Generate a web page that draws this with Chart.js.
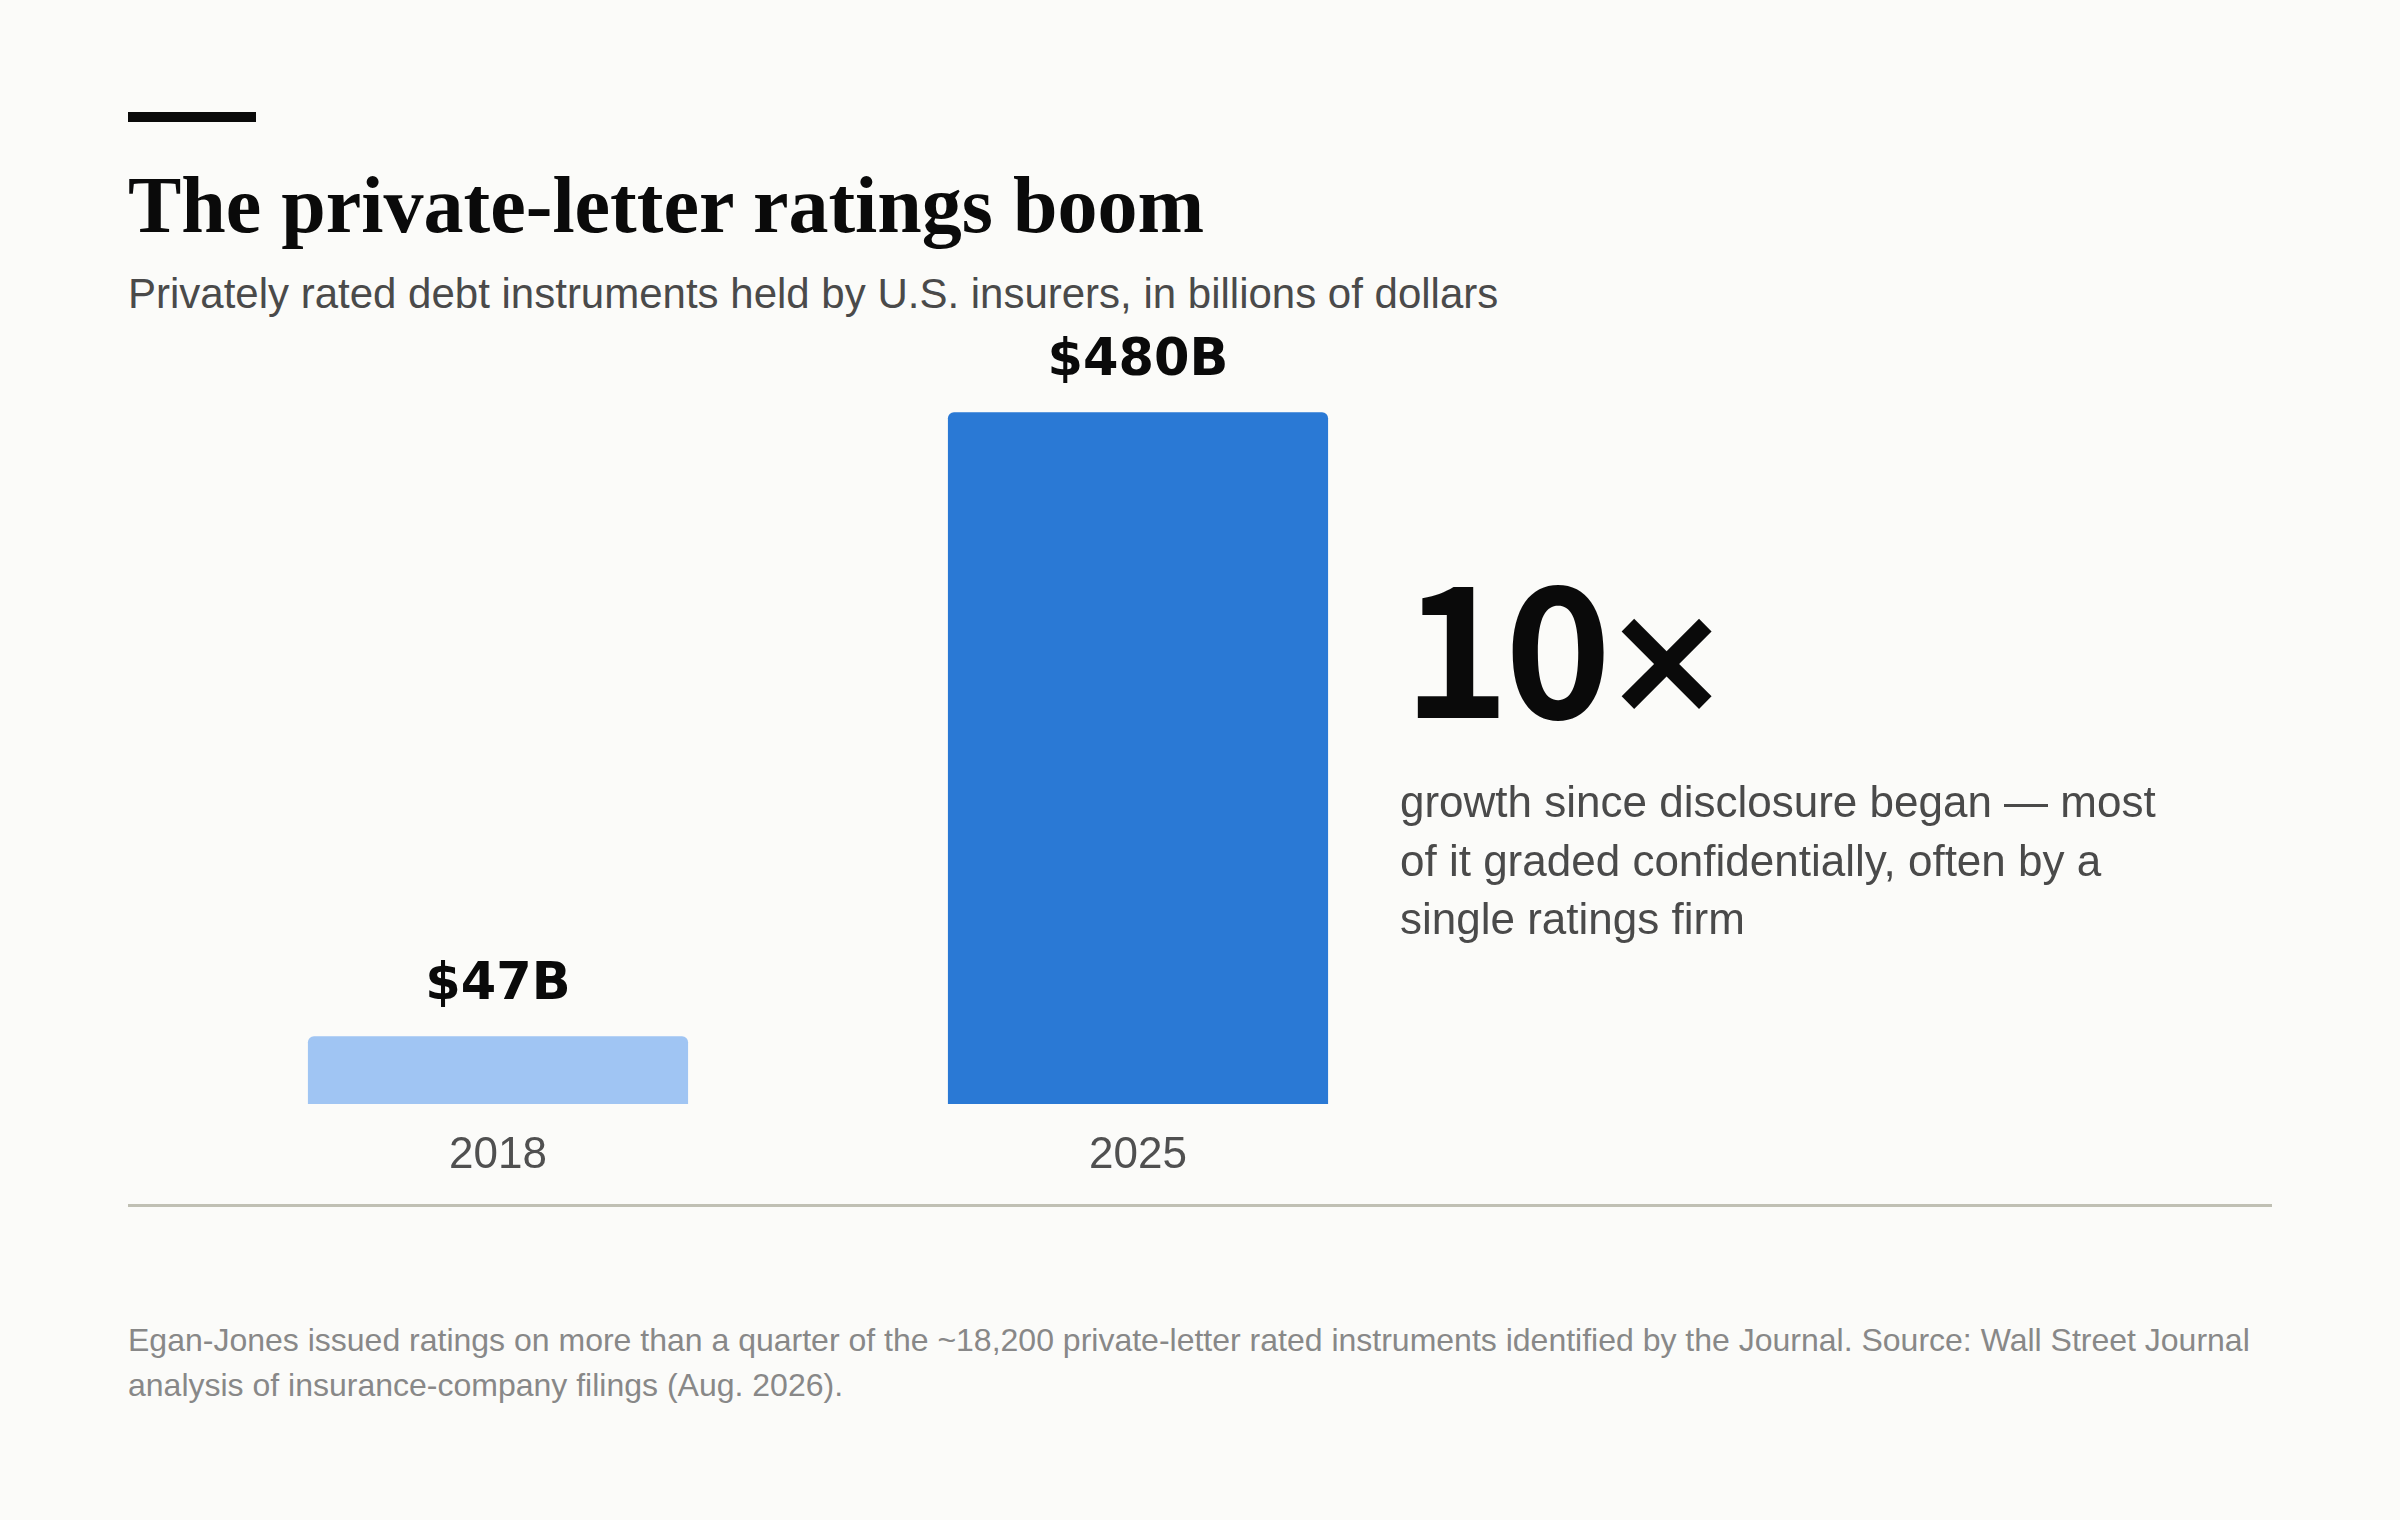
<!DOCTYPE html>
<html>
<head>
<meta charset="utf-8">
<title>The private-letter ratings boom</title>
<script src="https://cdn.jsdelivr.net/npm/chart.js@4.4.1/dist/chart.umd.min.js"></script>
<style>
    html, body { margin: 0; padding: 0; }
    body {
        width: 2400px;
        height: 1520px;
        position: relative;
        overflow: hidden;
        background: #FBFBF9;
        font-family: "Liberation Sans", Arial, sans-serif;
    }
    .accent { position: absolute; left: 128px; top: 112px; width: 128px; height: 10px; background: #0a0a0a; }
    h1 {
        position: absolute; left: 128px; top: 165px; margin: 0;
        font: bold 80px/1 "Liberation Serif", serif; color: #0a0a0a; white-space: nowrap;
    }
    .subtitle { position: absolute; left: 128px; top: 273px; font-size: 42px; line-height: 1; color: #4a4a4a; white-space: nowrap; }
    #chartWrap { position: absolute; left: 178px; top: 297px; width: 1280px; height: 907px; }
    .rule { position: absolute; left: 128px; top: 1204px; width: 2144px; height: 3px; background: #C0C0B4; }
    .big {
        position: absolute; left: 1403px; top: 549px;
        font: bold 181px/1 "Noto Sans CJK SC", sans-serif; color: #0a0a0a;
        letter-spacing: -5px; white-space: nowrap;
    }
    .big .times {
        font-family: "DejaVu Sans", sans-serif; font-size: 153px; letter-spacing: 0;
        position: relative; top: -6px; margin-left: -4px;
    }
    .note { position: absolute; left: 1400px; top: 773px; font-size: 44px; line-height: 58.5px; color: #4a4a4a; white-space: nowrap; }
    .footer { position: absolute; left: 128px; top: 1318px; font-size: 32px; line-height: 45px; color: #888; white-space: nowrap; }
</style>
</head>
<body>
<div class="accent"></div>
<h1>The private-letter ratings boom</h1>
<div class="subtitle">Privately rated debt instruments held by U.S. insurers, in billions of dollars</div>

<div id="chartWrap"><canvas id="ratingsChart" width="1280" height="907"></canvas></div>
<div class="rule"></div>

<div class="big">10<span class="times">×</span></div>
<div class="note">growth since disclosure began — most<br>of it graded confidentially, often by a<br>single ratings firm</div>

<div class="footer">Egan-Jones issued ratings on more than a quarter of the ~18,200 private-letter rated instruments identified by the Journal. Source: Wall Street Journal<br>analysis of insurance-company filings (Aug. 2026).</div>

<script>
// Data
const years = ['2018', '2025'];
const holdings = [47, 480];              // billions of dollars
const valueLabels = ['$47B', '$480B'];
const barColors = ['#A0C5F3', '#2A79D5'];

// Labels above each bar
const valueLabelPlugin = {
    id: 'valueLabels',
    afterDatasetsDraw(chart) {
        const ctx = chart.ctx;
        const meta = chart.getDatasetMeta(0);
        ctx.save();
        ctx.font = 'bold 51px "DejaVu Sans"';
        ctx.fillStyle = '#0a0a0a';
        ctx.textAlign = 'center';
        ctx.textBaseline = 'alphabetic';
        meta.data.forEach((bar, i) => {
            ctx.fillText(valueLabels[i], bar.x, bar.y - 37);
        });
        ctx.restore();
    }
};

function initChart() {
    const ctx = document.getElementById('ratingsChart').getContext('2d');

    new Chart(ctx, {
        type: 'bar',
        data: {
            labels: years,
            datasets: [{
                data: holdings,
                backgroundColor: barColors,
                borderWidth: 0,
                borderRadius: 6,
                borderSkipped: 'start',
                categoryPercentage: 1,
                barPercentage: 0.594
            }]
        },
        options: {
            responsive: false,
            animation: false,
            layout: { padding: 0 },
            plugins: {
                legend: { display: false },
                tooltip: { enabled: false }
            },
            scales: {
                x: {
                    grid: { display: false },
                    border: { display: false },
                    ticks: {
                        color: '#505050',
                        padding: 17,
                        font: { family: '"Liberation Sans"', size: 44 }
                    },
                    afterFit: (scale) => { scale.height = 100; }
                },
                y: {
                    display: false,
                    min: 0,
                    max: 560
                }
            }
        },
        plugins: [valueLabelPlugin]
    });
}

document.addEventListener('DOMContentLoaded', initChart);
</script>
</body>
</html>
